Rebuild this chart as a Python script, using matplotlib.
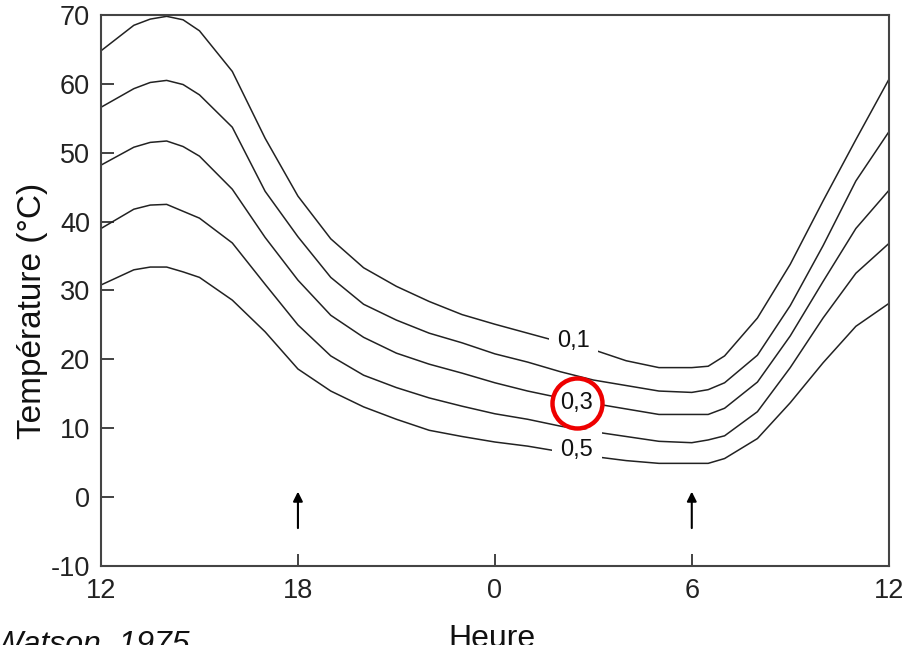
import matplotlib.pyplot as plt

plt.rcParams['font.family'] = ['Liberation Sans', 'DejaVu Sans']
plt.rcParams['axes.unicode_minus'] = False

# Heure (12 -> 36 = midi au midi suivant)
hours = [12, 13, 13.5, 14, 14.5, 15, 16, 17, 18, 19, 20, 21, 22, 23, 24, 25,
         26, 27, 28, 29, 30, 30.5, 31, 32, 33, 34, 35, 36]

# Température de surface (°C) pour chaque courbe
t_01 = [64.8, 68.5, 69.4, 69.8, 69.3, 67.7, 61.8, 52.1, 43.7, 37.5, 33.3, 30.6,
        28.4, 26.5, 25.1, 23.8, 22.5, 21.4, 19.8, 18.8, 18.8, 19.0, 20.5, 26.0,
        33.8, 43.0, 51.9, 60.6]
t_02 = [56.6, 59.3, 60.2, 60.5, 59.9, 58.4, 53.7, 44.4, 37.8, 31.9, 28.0, 25.7,
        23.8, 22.4, 20.8, 19.6, 18.2, 17.0, 16.2, 15.4, 15.2, 15.6, 16.6, 20.6,
        27.8, 36.5, 45.9, 53.0]
t_03 = [48.2, 50.8, 51.5, 51.7, 50.9, 49.5, 44.7, 37.7, 31.5, 26.4, 23.2, 20.9,
        19.3, 18.0, 16.6, 15.4, 14.4, 13.6, 12.8, 12.0, 12.0, 12.0, 12.9, 16.7,
        23.4, 31.3, 39.0, 44.5]
t_04 = [39.0, 41.8, 42.4, 42.5, 41.5, 40.5, 36.9, 30.9, 25.0, 20.5, 17.7, 15.9,
        14.4, 13.2, 12.1, 11.3, 10.3, 9.5, 8.8, 8.1, 7.9, 8.3, 8.9, 12.4,
        18.8, 26.0, 32.5, 36.8]
t_05 = [30.8, 33.0, 33.4, 33.4, 32.7, 31.9, 28.6, 24.0, 18.6, 15.4, 13.1, 11.3,
        9.7, 8.8, 8.0, 7.4, 6.6, 5.9, 5.3, 4.9, 4.9, 4.9, 5.6, 8.5,
        13.7, 19.5, 24.8, 28.1]

# étiquettes posées sur les courbes 0,1 / 0,3 / 0,5
curve_labels = ['0,1', '0,3', '0,5']
label_hours = [26.4, 26.5, 26.5]
label_temps = [22.7, 13.7, 6.9]

x_ticks = [12, 18, 24, 30, 36]
x_ticklabels = ['12', '18', '0', '6', '12']
y_ticks = [-10, 0, 10, 20, 30, 40, 50, 60, 70]
arrow_hours = [18, 30]

fig = plt.figure(figsize=(9.06, 6.45), dpi=100)
ax = fig.add_axes([0.1115, 0.1225, 0.8694, 0.8543])

for temps in [t_01, t_02, t_03, t_04, t_05]:
    ax.plot(hours, temps, color='#222222', lw=1.1)

for lab, h, t in zip(curve_labels, label_hours, label_temps):
    ax.text(h, t, lab, fontsize=17, ha='center', va='center', zorder=3,
            color='#111111',
            bbox=dict(boxstyle='square,pad=0.35', fc='white', ec='none'))

# cercle rouge autour de 0,3
ax.plot([label_hours[1]], [label_temps[1]], 'o', ms=36, mfc='none',
        mec='#ee0000', mew=3.2, zorder=4)

for h in arrow_hours:
    ax.annotate('', xy=(h, 1.2), xytext=(h, -4.9),
                arrowprops=dict(arrowstyle='-|>', color='black', lw=1.5,
                                mutation_scale=14))

ax.set_xlim(12, 36)
ax.set_ylim(-10, 70)
ax.set_xticks(x_ticks)
ax.set_xticklabels(x_ticklabels)
ax.set_yticks(y_ticks)
ax.tick_params(direction='in', length=9, width=1.2, labelsize=19.5,
               colors='#222222')
ax.tick_params(axis='x', pad=9)
ax.tick_params(axis='y', pad=8)

for sp in ax.spines.values():
    sp.set_color('#444444')
    sp.set_linewidth(1.5)

fig.text(33 / 906, 1 - 311 / 645, 'Température (°C)', rotation=90,
         fontsize=24, ha='center', va='center', color='#111111')
fig.text(491.5 / 906, -2 / 645, 'Heure', fontsize=23, ha='center',
         va='baseline', color='#111111')
fig.text(-7 / 906, -8 / 645, 'Watson, 1975', fontsize=23, style='italic',
         ha='left', va='baseline', color='#111111')

fig.savefig('out.png', dpi=100)
